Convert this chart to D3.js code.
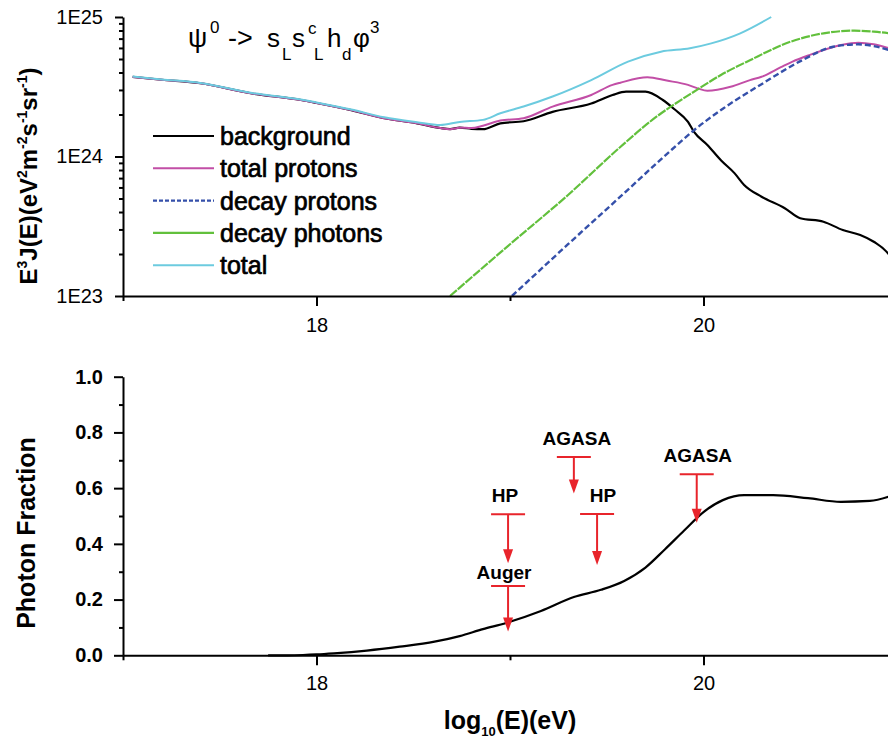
<!DOCTYPE html>
<html>
<head>
<meta charset="utf-8">
<script src="https://cdn.jsdelivr.net/npm/d3@7"></script>
<style>
body { margin: 0; background: #fff; }
svg { font-family: "Liberation Sans", Arial, sans-serif; }
.axis path, .axis line { stroke: #000; stroke-width: 2; }
.axis text { fill: #000; }
</style>
</head>
<body>
<svg id="chart" width="888" height="742"></svg>
<script>
// E^3 J(E) spectra (eV^2 m^-2 s^-1 sr^-1)
const bgE    = [17.05, 17.2, 17.4, 17.66, 17.92, 18.0, 18.18, 18.35, 18.52, 18.64, 18.69, 18.74, 18.8, 18.86, 18.95, 19.07, 19.22, 19.42, 19.53, 19.6, 19.7, 19.79, 19.85, 19.92, 19.95, 20.02, 20.09, 20.16, 20.21, 20.3, 20.42, 20.5, 20.62, 20.72, 20.81, 20.88, 20.96, 21.0]
const bgFlux = [3.72e24, 3.55e24, 3.35e24, 2.84e24, 2.54e24, 2.42e24, 2.15e24, 1.88e24, 1.73e24, 1.6e24, 1.57e24, 1.61e24, 1.58e24, 1.57e24, 1.73e24, 1.79e24, 2.09e24, 2.4e24, 2.76e24, 2.92e24, 2.92e24, 2.54e24, 2.18e24, 1.77e24, 1.51e24, 1.21e24, 0.94e24, 0.76e24, 0.625e24, 0.515e24, 0.426e24, 0.361e24, 0.341e24, 0.297e24, 0.274e24, 0.245e24, 0.197e24, 0.16e24]

const protE    = [17.05, 17.2, 17.4, 17.66, 17.92, 18.0, 18.18, 18.35, 18.52, 18.64, 18.69, 18.74, 18.8, 18.86, 18.95, 19.07, 19.22, 19.42, 19.53, 19.57, 19.71, 19.81, 19.92, 19.97, 20.02, 20.14, 20.24, 20.3, 20.4, 20.46, 20.55, 20.71, 20.8, 20.88, 20.96, 21.0]
const protFlux = [3.72e24, 3.55e24, 3.35e24, 2.84e24, 2.54e24, 2.42e24, 2.15e24, 1.88e24, 1.73e24, 1.6e24, 1.57e24, 1.61e24, 1.6e24, 1.66e24, 1.81e24, 1.88e24, 2.28e24, 2.76e24, 3.26e24, 3.38e24, 3.7e24, 3.5e24, 3.26e24, 3.08e24, 2.96e24, 3.16e24, 3.53e24, 3.73e24, 4.37e24, 4.79e24, 5.35e24, 6.3e24, 6.55e24, 6.37e24, 5.97e24, 5.75e24]

const decayProtE    = [19.01, 19.3, 19.57, 19.8, 19.96, 20.1, 20.3, 20.51, 20.67, 20.8, 20.88, 20.96, 21.0]
const decayProtFlux = [1e23, 2.35e23, 5.15e23, 1.01e24, 1.58e24, 2.2e24, 3.3e24, 4.9e24, 6.12e24, 6.37e24, 6.19e24, 5.79e24, 5.6e24]

const decayPhotE    = [18.69, 19.0, 19.3, 19.57, 19.74, 19.97, 20.09, 20.24, 20.45, 20.62, 20.78, 20.88, 20.96, 21.0]
const decayPhotFlux = [1e23, 2.35e23, 5.3e23, 1.17e24, 1.85e24, 3.03e24, 3.84e24, 4.9e24, 6.65e24, 7.64e24, 7.98e24, 7.85e24, 7.64e24, 7.5e24]

const totalE    = [17.05, 17.2, 17.4, 17.66, 17.92, 18.0, 18.18, 18.35, 18.52, 18.64, 18.74, 18.86, 18.95, 19.07, 19.22, 19.42, 19.61, 19.78, 19.93, 20.04, 20.19, 20.35]
const totalFlux = [3.74e24, 3.57e24, 3.37e24, 2.86e24, 2.56e24, 2.44e24, 2.17e24, 1.91e24, 1.76e24, 1.68e24, 1.77e24, 1.83e24, 2.04e24, 2.28e24, 2.69e24, 3.53e24, 4.79e24, 5.64e24, 5.97e24, 6.47e24, 7.64e24, 1e25]

// photon fraction
const fracE   = [17.75, 17.85, 17.93, 18.0, 18.09, 18.26, 18.43, 18.61, 18.74, 18.86, 18.98, 19.16, 19.33, 19.47, 19.59, 19.7, 19.8, 19.9, 20.0, 20.1, 20.21, 20.36, 20.54, 20.71, 20.86, 20.96, 21.0]
const fracVal = [0, 0, 0.001, 0.003, 0.007, 0.017, 0.031, 0.049, 0.069, 0.094, 0.116, 0.159, 0.209, 0.235, 0.267, 0.315, 0.38, 0.448, 0.514, 0.557, 0.575, 0.575, 0.564, 0.551, 0.554, 0.57, 0.58]

// experimental upper limits
const limitNames = ['HP', 'Auger', 'AGASA', 'HP', 'AGASA']
const limitE     = [18.99, 18.99, 19.33, 19.45, 19.965]
const limitBar   = [0.506, 0.249, 0.712, 0.507, 0.65]
const limitTip   = [0.33, 0.085, 0.581, 0.324, 0.476]

const legendNames = ['background', 'total protons', 'decay protons', 'decay photons', 'total']
const xMajor = [18, 20]
const xMinor = [17, 19, 21]
const yLogMajor = [1e23, 1e24, 1e25]
const fracMajor = [0, 0.2, 0.4, 0.6, 0.8, 1.0]
const fracMinor = [0.1, 0.3, 0.5, 0.7, 0.9]

const series = [
    { name: legendNames[0], E: bgE, v: bgFlux, colour: '#000000', width: 2.2, dash: null, keyDash: null },
    { name: legendNames[1], E: protE, v: protFlux, colour: '#c24ea6', width: 2, dash: null, keyDash: null },
    { name: legendNames[2], E: decayProtE, v: decayProtFlux, colour: '#3550aa', width: 2.4, dash: '6,3', keyDash: '4,2' },
    { name: legendNames[3], E: decayPhotE, v: decayPhotFlux, colour: '#62c03c', width: 2.2, dash: '9,1.2', keyDash: null },
    { name: legendNames[4], E: totalE, v: totalFlux, colour: '#6ccbdf', width: 2, dash: null, keyDash: null }
]

const svg = d3.select('#chart')
const left = 123, right = 897

let x = d3.scaleLinear().domain([17, 21]).range([left, right])
let yTop = d3.scaleLog().domain([1e23, 1e25]).range([296, 17])
let yBot = d3.scaleLinear().domain([0, 1]).range([655.3, 376.7])

svg.append('clipPath').attr('id', 'clipTop')
    .append('rect').attr('x', left).attr('y', 16).attr('width', right - left).attr('height', 281)

// ---------- top panel ----------
let topPanel = svg.append('g')

let lines = topPanel.append('g').attr('clip-path', 'url(#clipTop)')
series.forEach(s => {
    let line = d3.line()
        .x((d, i) => x(s.E[i]))
        .y(d => yTop(d))
        .curve(d3.curveMonotoneX)
    lines.append('path')
        .attr('d', line(s.v))
        .attr('fill', 'none')
        .attr('stroke', s.colour)
        .attr('stroke-width', s.width)
        .attr('stroke-dasharray', s.dash)
        .attr('stroke-linejoin', 'round')
})

function drawXAxis(g, y, pad) {
    g.append('g').attr('class', 'axis')
        .attr('transform', `translate(0,${y})`)
        .call(d3.axisBottom(x).tickValues(xMajor).tickSize(10).tickSizeOuter(0).tickPadding(pad).tickFormat(d3.format('d')))
        .call(a => a.selectAll('text').style('font-size', '20px'))
    g.append('g').attr('class', 'axis')
        .attr('transform', `translate(0,${y})`)
        .call(d3.axisBottom(x).tickValues(xMinor).tickSize(5).tickFormat(''))
        .call(a => a.select('.domain').remove())
}

drawXAxis(topPanel, 296, 11.5)

let minorLog = []
for (let dec of [1e23, 1e24]) for (let m = 2; m <= 9; m++) minorLog.push(m * dec)

topPanel.append('g').attr('class', 'axis')
    .attr('transform', `translate(${left},0)`)
    .call(d3.axisLeft(yTop).tickValues(yLogMajor).tickSize(8).tickSizeOuter(0).tickPadding(12)
        .tickFormat(d => '1E' + Math.round(Math.log10(d))))
    .call(a => a.selectAll('text').style('font-size', '20px'))
topPanel.append('g').attr('class', 'axis')
    .attr('transform', `translate(${left},0)`)
    .call(d3.axisLeft(yTop).tickValues(minorLog).tickSize(4).tickFormat(''))
    .call(a => a.select('.domain').remove())

// y title (rotated)
let yTitle = topPanel.append('text')
    .attr('transform', 'translate(37,176) rotate(-90)')
    .attr('text-anchor', 'middle')
    .style('font-size', '24px')
    .style('font-weight', 'bold')
const yTitleParts = [['E', 0], ['3', 1], ['J(E)(eV', 0], ['2', 1], ['m', 0], ['-2', 1], ['s', 0], ['-1', 1], ['sr', 0], ['-1', 1], [')', 0]]
let prevSup = 0
yTitleParts.forEach(p => {
    yTitle.append('tspan')
        .attr('dy', p[1] === prevSup ? 0 : (p[1] ? -10 : 10))
        .style('font-size', p[1] ? '14px' : '24px')
        .text(p[0])
    prevSup = p[1]
})

// formula title: [text, x, baseline, size]
let formula = topPanel.append('text').style('font-size', '26px')
const formulaParts = [
    ['ψ', 188, 47, 27], ['0', 210, 33, 17], ['->', 228, 47, 27], ['s', 267, 47, 26], ['L', 282, 60, 17],
    ['s', 292, 47, 26], ['c', 308, 34, 17], ['L', 314, 60, 17], ['h', 327, 47, 26], ['d', 342, 60, 17],
    ['φ', 353, 47, 26], ['3', 370, 33, 17]
]
formulaParts.forEach(p => {
    formula.append('tspan').attr('x', p[1]).attr('y', p[2]).style('font-size', p[3] + 'px').text(p[0])
})

// legend
let legend = topPanel.append('g').attr('transform', 'translate(153,136)')
series.forEach((s, i) => {
    let row = legend.append('g').attr('transform', `translate(0,${i * 32.3})`)
    row.append('line')
        .attr('x1', 0).attr('x2', 61).attr('y1', 0).attr('y2', 0)
        .attr('stroke', s.colour).attr('stroke-width', s.width)
        .attr('stroke-dasharray', s.keyDash)
    row.append('text')
        .attr('x', 67).attr('y', 9)
        .style('font-size', '25px')
        .style('stroke', '#000').style('stroke-width', 0.7)
        .text(s.name)
})

// ---------- bottom panel ----------
let botPanel = svg.append('g')

let fracLine = d3.line()
    .x((d, i) => x(fracE[i]))
    .y(d => yBot(d))
    .curve(d3.curveMonotoneX)

drawXAxis(botPanel, 655.3, 10.5)

botPanel.append('g').attr('class', 'axis')
    .attr('transform', `translate(${left},0)`)
    .call(d3.axisLeft(yBot).tickValues(fracMajor).tickSize(9).tickSizeOuter(0).tickPadding(11).tickFormat(d3.format('.1f')))
    .call(a => a.selectAll('text').style('font-size', '20px').style('font-weight', 'bold'))
botPanel.append('g').attr('class', 'axis')
    .attr('transform', `translate(${left},0)`)
    .call(d3.axisLeft(yBot).tickValues(fracMinor).tickSize(4).tickFormat(''))
    .call(a => a.select('.domain').remove())

botPanel.append('path')
    .attr('d', fracLine(fracVal))
    .attr('fill', 'none')
    .attr('stroke', '#000')
    .attr('stroke-width', 2.2)

// upper limit arrows
const red = '#e8242b'
const labelShift = [-3, -4, 3, 6, 1]
limitNames.forEach((name, i) => {
    let cx = x(limitE[i])
    let yb = yBot(limitBar[i])
    let yt = yBot(limitTip[i])
    let g = botPanel.append('g')
    g.append('line')
        .attr('x1', cx - 17).attr('x2', cx + 17).attr('y1', yb).attr('y2', yb)
        .attr('stroke', red).attr('stroke-width', 2)
    g.append('line')
        .attr('x1', cx).attr('x2', cx).attr('y1', yb).attr('y2', yt - 12)
        .attr('stroke', red).attr('stroke-width', 2)
    g.append('path')
        .attr('d', `M${cx - 5},${yt - 14}L${cx + 5},${yt - 14}L${cx},${yt}Z`)
        .attr('fill', red)
    g.append('text')
        .attr('x', cx + labelShift[i])
        .attr('y', yb - (name === 'Auger' ? 7 : 12))
        .attr('text-anchor', 'middle')
        .style('font-size', '19px')
        .style('font-weight', 'bold')
        .text(name)
})

botPanel.append('text')
    .attr('transform', 'translate(35,533) rotate(-90)')
    .attr('text-anchor', 'middle')
    .style('font-size', '25px')
    .style('font-weight', 'bold')
    .text('Photon Fraction')

let xTitle = botPanel.append('text')
    .attr('x', 510).attr('y', 729)
    .attr('text-anchor', 'middle')
    .style('font-size', '25px')
    .style('font-weight', 'bold')
xTitle.append('tspan').text('log')
xTitle.append('tspan').attr('dy', 7).style('font-size', '13px').text('10')
xTitle.append('tspan').attr('dy', -7).text('(E)(eV)')
</script>
</body>
</html>
